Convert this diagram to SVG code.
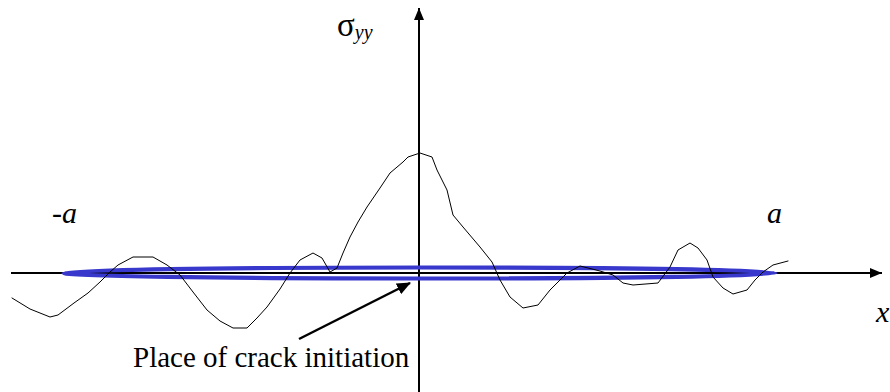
<svg xmlns="http://www.w3.org/2000/svg" width="890" height="392" viewBox="0 0 890 392">
<style>
.t{font-family:'Liberation Serif','Times New Roman',Tinos,'DejaVu Serif',serif;fill:#000}
.i{font-style:italic}
.ax{stroke:#000;stroke-width:2;fill:none}
.curve{stroke:#000;stroke-width:1;fill:none;stroke-linejoin:round;stroke-linecap:round}
</style>
<defs>
<marker id="ah" markerWidth="12" markerHeight="10" refX="12" refY="5" orient="auto" markerUnits="userSpaceOnUse">
<path d="M0,0 L12,5 L0,10 Z" fill="#000"/>
</marker>
<marker id="ah2" markerWidth="14" markerHeight="12" refX="13" refY="6" orient="auto" markerUnits="userSpaceOnUse">
<path d="M0,0 L14,6 L0,12 Z" fill="#000"/>
</marker>
</defs>
<g id="connectors">
<line class="ax" x1="11" y1="273" x2="882" y2="273" marker-end="url(#ah)"/>
<line class="ax" x1="419" y1="392" x2="419" y2="8" marker-end="url(#ah)"/>
<line x1="299" y1="339" x2="410" y2="283" stroke="#000" stroke-width="2.5" marker-end="url(#ah2)"/>
</g>
<g id="crack">
<ellipse cx="419.5" cy="273" rx="356" ry="5.5" fill="none" stroke="#3838cc" stroke-width="4.2"/>
</g>
<g id="stress-curve">
<polyline class="curve" points="12,298 30,309 50,317 58,315 74,303 88,293 100,282 110,272 118,265 133,257 153,257 167,265 180,275 193,292 207,310 220,321 233,328 247,328 257,318 267,307 280,289 290,273 300,260 313,253 322,258 330,272 337,268 343,253 350,237 358,222 367,207 380,188 390,173 403,162 408,157 420,153 432,157 437,170 447,190 453,215 463,227 480,247 492,262 500,280 510,297 523,308 538,305 550,290 567,273 580,266 600,271 613,275 623,283 633,285 658,283 670,267 678,250 690,243 698,248 707,260 713,277 723,288 733,294 747,290 755,280 763,272 773,265 788,261"/>
</g>
<g id="labels">
<text class="t" x="337" y="36" font-size="33">σ<tspan class="i" font-size="20" dy="3">yy</tspan></text>
<text class="t i" x="52" y="223" font-size="30">-a</text>
<text class="t i" x="767" y="223" font-size="30">a</text>
<text class="t i" x="876" y="322" font-size="30">x</text>
<text class="t" x="133" y="367" font-size="29">Place of crack initiation</text>
</g>
</svg>
